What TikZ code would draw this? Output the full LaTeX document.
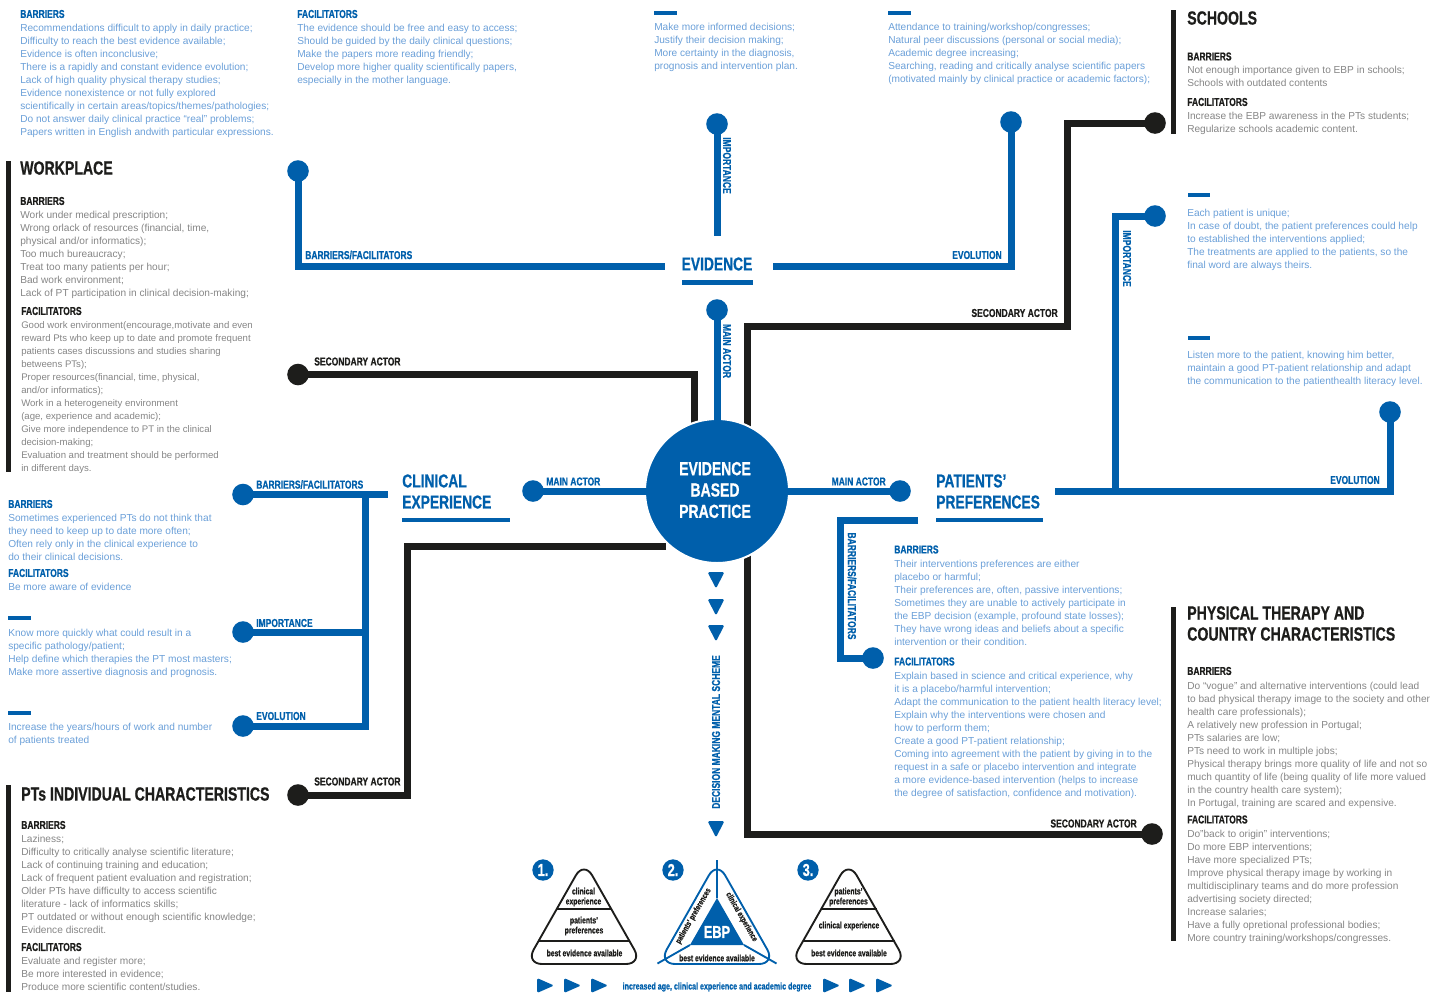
\documentclass[tikz,border=0pt]{standalone}
\usepackage{fontspec}
\setmainfont{Liberation Sans}
\newfontfamily\headf[FakeStretch=0.74,FakeBold=0.7]{Liberation Sans}
\definecolor{ebpblue}{HTML}{005FAB}
\definecolor{ink}{HTML}{1D1D1B}
\definecolor{txtblue}{HTML}{6A9FD8}
\definecolor{txtgrey}{HTML}{858585}
\tikzset{
  x=0.75pt,y=-0.75pt,
  bl/.style={draw=ebpblue,line width=5.25pt,line join=miter},
  bk/.style={draw=ink,line width=5.25pt,line join=miter},
  dotb/.style={circle,fill=ebpblue,inner sep=0pt,minimum size=16.2pt},
  dotk/.style={circle,fill=ink,inner sep=0pt,minimum size=16.2pt},
  blk/.style={anchor=north west,inner sep=0pt,align=left,yshift=-2.1pt,font=\fontsize{7.6pt}{9.75pt}\selectfont},
  tb/.style={blk,text=txtblue},
  tg/.style={blk,text=txtgrey},
  hb/.style={anchor=west,inner sep=0pt,text=ebpblue,font=\headf\bfseries\fontsize{8.6pt}{9.75pt}\selectfont},
  hk/.style={anchor=west,inner sep=0pt,text=ink,font=\headf\bfseries\fontsize{8.6pt}{9.75pt}\selectfont},
  tk/.style={anchor=west,inner sep=0pt,align=left,text=ink,font=\headf\bfseries\fontsize{14.3pt}{15.8pt}\selectfont},
  tbig/.style={anchor=west,inner sep=0pt,align=left,text=ebpblue,font=\headf\bfseries\fontsize{14pt}{15.8pt}\selectfont},
  bar/.style={draw=ink,line width=4pt},
  dashb/.style={draw=ebpblue,line width=3.7pt},
  pyr/.style={anchor=center,inner sep=0pt,align=center,text=ink,font=\headf\bfseries\fontsize{6.9pt}{7.5pt}\selectfont},
  pyrs/.style={pyr,font=\headf\bfseries\fontsize{6.3pt}{7.5pt}\selectfont},
  num/.style={circle,fill=ebpblue,inner sep=0pt,minimum size=16pt,text=white,font=\headf\bfseries\fontsize{13pt}{13pt}\selectfont},
}
\newcommand{\downtri}[2]{\fill[ebpblue,rounded corners=1.2pt] (#1-8.5,#2) -- (#1+8.5,#2) -- (#1,#2+16.5) -- cycle;}
\newcommand{\righttri}[2]{\fill[ebpblue,rounded corners=1.2pt] (#1,#2) -- (#1+17,#2+7.5) -- (#1,#2+15) -- cycle;}
\newcommand{\pyramid}[2]{\draw[#2,line width=1.4pt,rounded corners=12.5pt] (#1,861) -- (#1+58.5,964) -- (#1-58.5,964) -- cycle;}
\begin{document}
\begin{tikzpicture}
\useasboundingbox (0,0) rectangle (1446,993);
% ---------- named corner and free-end coordinates
\coordinate (evL) at (665,266);
\coordinate (evR) at (773,266);
\coordinate (impE) at (717,236);
\coordinate (secA) at (694,430);
\coordinate (secB) at (747,430);
\coordinate (secBm) at (1067,326);
\coordinate (secC) at (666,546);
\coordinate (secCm) at (407,546);
\coordinate (secD) at (747,550);
\coordinate (patL) at (1055,491.5);
\coordinate (patI) at (1115,491.5);
\coordinate (patB) at (918,520);
\coordinate (patBm) at (840,658);
\coordinate (cliR) at (388,494.5);
\coordinate (cliV) at (365.5,494.5);
\coordinate (cliI) at (365.5,632);
% ---------- dots
\node[dotb] (dEvB) at (298,171) {};
\node[dotb] (dEvI) at (717,124) {};
\node[dotb] (dEvE) at (1011,122) {};
\node[dotb] (dEvM) at (717,310) {};
\node[dotk] (dS1) at (298,374.5) {};
\node[dotk] (dS2) at (1155,123) {};
\node[dotk] (dS3) at (298,795) {};
\node[dotk] (dS4) at (1152,834) {};
\node[dotb] (dPM) at (900,491) {};
\node[dotb] (dPI) at (1155,216) {};
\node[dotb] (dPE) at (1390,412) {};
\node[dotb] (dPB) at (873,658) {};
\node[dotb] (dCM) at (533,491) {};
\node[dotb] (dCB) at (243,494.5) {};
\node[dotb] (dCI) at (243,632) {};
\node[dotb] (dCE) at (243,726) {};
% ---------- connectors
\draw[bl] (dEvB.center) |- (evL);
\draw[bl] (evR) -| (dEvE.center);
\draw[bl] (dEvI.center) -- (impE);
\draw[bk] (dS1.center) -| (secA);
\draw[bk] (secB) |- (secBm) |- (dS2.center);
\draw[bk] (secC) -| (secCm) |- (dS3.center);
\draw[bk] (secD) |- (dS4.center);
\draw[bl] (patL) -| (dPE.center);
\draw[bl] (patI) |- (dPI.center);
\draw[bl] (patB) -| (patBm) -- (dPB.center);
\draw[bl] (dCB.center) -- (cliR);
\draw[bl] (cliV) |- (dCE.center);
\draw[bl] (dCI.center) -- (cliI);
% ---------- centre
\node[circle,fill=ebpblue,draw=white,line width=1.5pt,inner sep=0pt,minimum size=108pt] (main) at (717,491) {};
\draw[bl] (dEvM.center) -- (main.center);
\draw[bl] (dCM.center) -- (main.center);
\draw[bl] (dPM.center) -- (main.center);
\node[tbig,anchor=center,text=white,align=center,font=\headf\bfseries\fontsize{14.2pt}{16pt}\selectfont] (mainT) at (715,490) {EVIDENCE\\BASED\\PRACTICE};
% ---------- branch titles
\node[tbig,anchor=center] (tEv) at (717,264) {EVIDENCE};
\draw[dashb] (682,282.5) -- (753,282.5);
\node[tbig] (tPat) at (936,491.5) {PATIENTS’\\PREFERENCES};
\draw[dashb] (936,520) -- (1043,520);
\node[tbig] (tCli) at (402,491.5) {CLINICAL\\EXPERIENCE};
\draw[dashb] (402,520) -- (510,520);
% ---------- connector labels
\node[hb] (l1) at (305,255) {BARRIERS/FACILITATORS};
\node[hb,anchor=east] (l2) at (1002,255) {EVOLUTION};
\node[hb,rotate=-90,anchor=center] (l3) at (727,165.5) {IMPORTANCE};
\node[hb,rotate=-90,anchor=center] (l4) at (727,351) {MAIN ACTOR};
\node[hk] (l5) at (314,361.5) {SECONDARY ACTOR};
\node[hk,anchor=east] (l6) at (1058,313) {SECONDARY ACTOR};
\node[hb,rotate=-90,anchor=center] (l7) at (1127,258.5) {IMPORTANCE};
\node[hb,anchor=east] (l8) at (1380,480) {EVOLUTION};
\node[hb,anchor=east] (l9) at (886,481.5) {MAIN ACTOR};
\node[hb] (l10) at (546,481.5) {MAIN ACTOR};
\node[hb,rotate=-90,anchor=center] (l11) at (852,586) {BARRIERS/FACILITATORS};
\node[hb] (l12) at (256,484.5) {BARRIERS/FACILITATORS};
\node[hb] (l13) at (256,623) {IMPORTANCE};
\node[hb] (l14) at (256,716) {EVOLUTION};
\node[hk] (l15) at (314,781.5) {SECONDARY ACTOR};
\node[hk,anchor=east] (l16) at (1137,823.5) {SECONDARY ACTOR};
\node[hb,rotate=90,anchor=center] (l17) at (716,732) {DECISION MAKING MENTAL SCHEME};
% ---------- decorative marks
\draw[bar] (8.5,161) -- (8.5,472);
\draw[bar] (1173.5,10) -- (1173.5,134);
\draw[bar] (1173.5,607) -- (1173.5,941);
\draw[bar] (8.5,785) -- (8.5,992);
\draw[dashb] (654,13) -- (677,13);
\draw[dashb] (888,13) -- (911,13);
\draw[dashb] (1188,195) -- (1210,195);
\draw[dashb] (1188,338) -- (1210,338);
\draw[dashb] (8,618) -- (31,618);
\draw[dashb] (8,713) -- (31,713);
\downtri{716}{572}\downtri{716}{599}\downtri{716}{625}\downtri{716}{821}
% ---------- evidence texts
\node[hb] (h1) at (20,14) {BARRIERS};
\node[tb] (t1) at (20,21) {Recommendations difficult to apply in daily practice;\\Difficulty to reach the best evidence available;\\Evidence is often inconclusive;\\There is a rapidly and constant evidence evolution;\\Lack of high quality physical therapy studies;\\Evidence nonexistence or not fully explored\\scientifically in certain areas/topics/themes/pathologies;\\Do not answer daily clinical practice “real” problems;\\Papers written in English andwith particular expressions.};
\node[hb] (h2) at (297,14) {FACILITATORS};
\node[tb] (t2) at (297,21) {The evidence should be free and easy to access;\\Should be guided by the daily clinical questions;\\Make the papers more reading friendly;\\Develop more higher quality scientifically papers,\\especially in the mother language.};
\node[tb] (t3) at (654,20) {Make more informed decisions;\\Justify their decision making;\\More certainty in the diagnosis,\\prognosis and intervention plan.};
\node[tb] (t4) at (888,20) {Attendance to training/workshop/congresses;\\Natural peer discussions (personal or social media);\\Academic degree increasing;\\Searching, reading and critically analyse scientific papers\\(motivated mainly by clinical practice or academic factors);};
% ---------- schools
\node[tk] (k1) at (1187,18) {SCHOOLS};
\node[hk] (h3) at (1187,56.5) {BARRIERS};
\node[tg] (t5) at (1187,63) {Not enough importance given to EBP in schools;\\Schools with outdated contents};
\node[hk] (h4) at (1187,102) {FACILITATORS};
\node[tg] (t6) at (1187,109) {Increase the EBP awareness in the PTs students;\\Regularize schools academic content.};
% ---------- patients right
\node[tb] (t7) at (1187,206) {Each patient is unique;\\In case of doubt, the patient preferences could help\\to established the interventions applied;\\The treatments are applied to the patients, so the\\final word are always theirs.};
\node[tb] (t8) at (1187,348) {Listen more to the patient, knowing him better,\\maintain a good PT-patient relationship and adapt\\the communication to the patienthealth literacy level.};
% ---------- workplace
\node[tk] (k2) at (20,168) {WORKPLACE};
\node[hk] (h5) at (20,201) {BARRIERS};
\node[tg] (t9) at (20,208) {Work under medical prescription;\\Wrong orlack of resources (financial, time,\\physical and/or informatics);\\Too much bureaucracy;\\Treat too many patients per hour;\\Bad work environment;\\Lack of PT participation in clinical decision-making;};
\node[hk] (h6) at (21,311) {FACILITATORS};
\node[tg,font=\fontsize{7.2pt}{9.75pt}\selectfont] (t10) at (21,318) {Good work environment(encourage,motivate and even\\reward Pts who keep up to date and promote frequent\\patients cases discussions and studies sharing\\betweens PTs);\\Proper resources(financial, time, physical,\\and/or informatics);\\Work in a heterogeneity environment\\(age, experience and academic);\\Give more independence to PT in the clinical\\decision-making;\\Evaluation and treatment should be performed\\in different days.};
% ---------- clinical left
\node[hb] (h7) at (8,504) {BARRIERS};
\node[tb] (t11) at (8,511) {Sometimes experienced PTs do not think that\\they need to keep up to date more often;\\Often rely only in the clinical experience to\\do their clinical decisions.};
\node[hb] (h8) at (8,573) {FACILITATORS};
\node[tb] (t12) at (8,580) {Be more aware of evidence};
\node[tb] (t13) at (8,626) {Know more quickly what could result in a\\specific pathology/patient;\\Help define which therapies the PT most masters;\\Make more assertive diagnosis and prognosis.};
\node[tb] (t14) at (8,720) {Increase the years/hours of work and number\\of patients treated};
% ---------- PTs individual
\node[tk] (k3) at (21,794) {PTs INDIVIDUAL CHARACTERISTICS};
\node[hk] (h9) at (21,825) {BARRIERS};
\node[tg] (t15) at (21,832) {Laziness;\\Difficulty to critically analyse scientific literature;\\Lack of continuing training and education;\\Lack of frequent patient evaluation and registration;\\Older PTs have difficulty to access scientific\\literature - lack of informatics skills;\\PT outdated or without enough scientific knowledge;\\Evidence discredit.};
\node[hk] (h10) at (21,947) {FACILITATORS};
\node[tg] (t16) at (21,954) {Evaluate and register more;\\Be more interested in evidence;\\Produce more scientific content/studies.};
% ---------- patients lower
\node[hb] (h11) at (894,549.5) {BARRIERS};
\node[tb] (t17) at (894,557) {Their interventions preferences are either\\placebo or harmful;\\Their preferences are, often, passive interventions;\\Sometimes they are unable to actively participate in\\the EBP decision (example, profound state losses);\\They have wrong ideas and beliefs about a specific\\intervention or their condition.};
\node[hb] (h12) at (894,661.5) {FACILITATORS};
\node[tb] (t18) at (894,669) {Explain based in science and critical experience, why\\it is a placebo/harmful intervention;\\Adapt the communication to the patient health literacy level;\\Explain why the interventions were chosen and\\how to perform them;\\Create a good PT-patient relationship;\\Coming into agreement with the patient by giving in to the\\request in a safe or placebo intervention and integrate\\a more evidence-based intervention (helps to increase\\the degree of satisfaction, confidence and motivation).};
% ---------- physical therapy
\node[tk] (k4) at (1187,623.5) {PHYSICAL THERAPY AND\\COUNTRY CHARACTERISTICS};
\node[hk] (h13) at (1187,671) {BARRIERS};
\node[tg] (t19) at (1187,679) {Do “vogue” and alternative interventions (could lead\\to bad physical therapy image to the society and other\\health care professionals);\\A relatively new profession in Portugal;\\PTs salaries are low;\\PTs need to work in multiple jobs;\\Physical therapy brings more quality of life and not so\\much quantity of life (being quality of life more valued\\in the country health care system);\\In Portugal, training are scared and expensive.};
\node[hk] (h14) at (1187,819.5) {FACILITATORS};
\node[tg] (t20) at (1187,827) {Do”back to origin” interventions;\\Do more EBP interventions;\\Have more specialized PTs;\\Improve physical therapy image by working in\\multidisciplinary teams and do more profession\\advertising society directed;\\Increase salaries;\\Have a fully opretional professional bodies;\\More country training/workshops/congresses.};
% ---------- pyramids
\pyramid{584}{ink}
\draw[draw=ink,line width=1.4pt] (556,909) -- (612,909) (538,941) -- (630,941);
\node[pyr] (p1a) at (583.5,897) {clinical\\experience};
\node[pyr] (p1b) at (584,926) {patients’\\preferences};
\node[pyr] (p1c) at (584.5,953) {best evidence available};
\pyramid{848.5}{ink}
\draw[draw=ink,line width=1.4pt] (820.5,909) -- (876.5,909) (802.5,941) -- (894.5,941);
\node[pyr] (p3a) at (848.5,897) {patients’\\preferences};
\node[pyr] (p3b) at (849,926) {clinical experience};
\node[pyr] (p3c) at (849,953) {best evidence available};
\pyramid{717}{ebpblue}
\coordinate (ebpTop) at (717,860);
\coordinate (ebpL) at (657.5,963.5);
\coordinate (ebpR) at (776.5,963.5);
\coordinate (inT) at (717,898);
\coordinate (inL) at (690,945);
\coordinate (inR) at (744,945);
\fill[ebpblue] (inT) -- (inR) -- (inL) -- cycle;
\draw[ebpblue,line width=1.4pt] (ebpTop) -- (inT) (ebpL) -- (inL) (ebpR) -- (inR);
\node[inner sep=0pt,text=white,font=\headf\bfseries\fontsize{13pt}{13pt}\selectfont,anchor=center] (ebpT) at (717,932) {EBP};
\node[pyrs,rotate=60] (p2a) at (693.5,916) {patients’ preferences};
\node[pyrs,rotate=-60] (p2b) at (741.5,917) {clinical experience};
\node[pyr] (p2c) at (717,958) {best evidence available};
\node[num] (n1) at (543,870) {1.};
\node[num] (n2) at (673,870) {2.};
\node[num] (n3) at (808,870) {3.};
\righttri{537}{978}\righttri{564}{978}\righttri{591}{978}
\righttri{823}{978}\righttri{849}{978}\righttri{876}{978}
\node[pyr,text=ebpblue,font=\headf\bfseries\fontsize{7.2pt}{7.5pt}\selectfont] (inc) at (717,987) {increased age, clinical experience and academic degree};
\end{tikzpicture}
\end{document}
